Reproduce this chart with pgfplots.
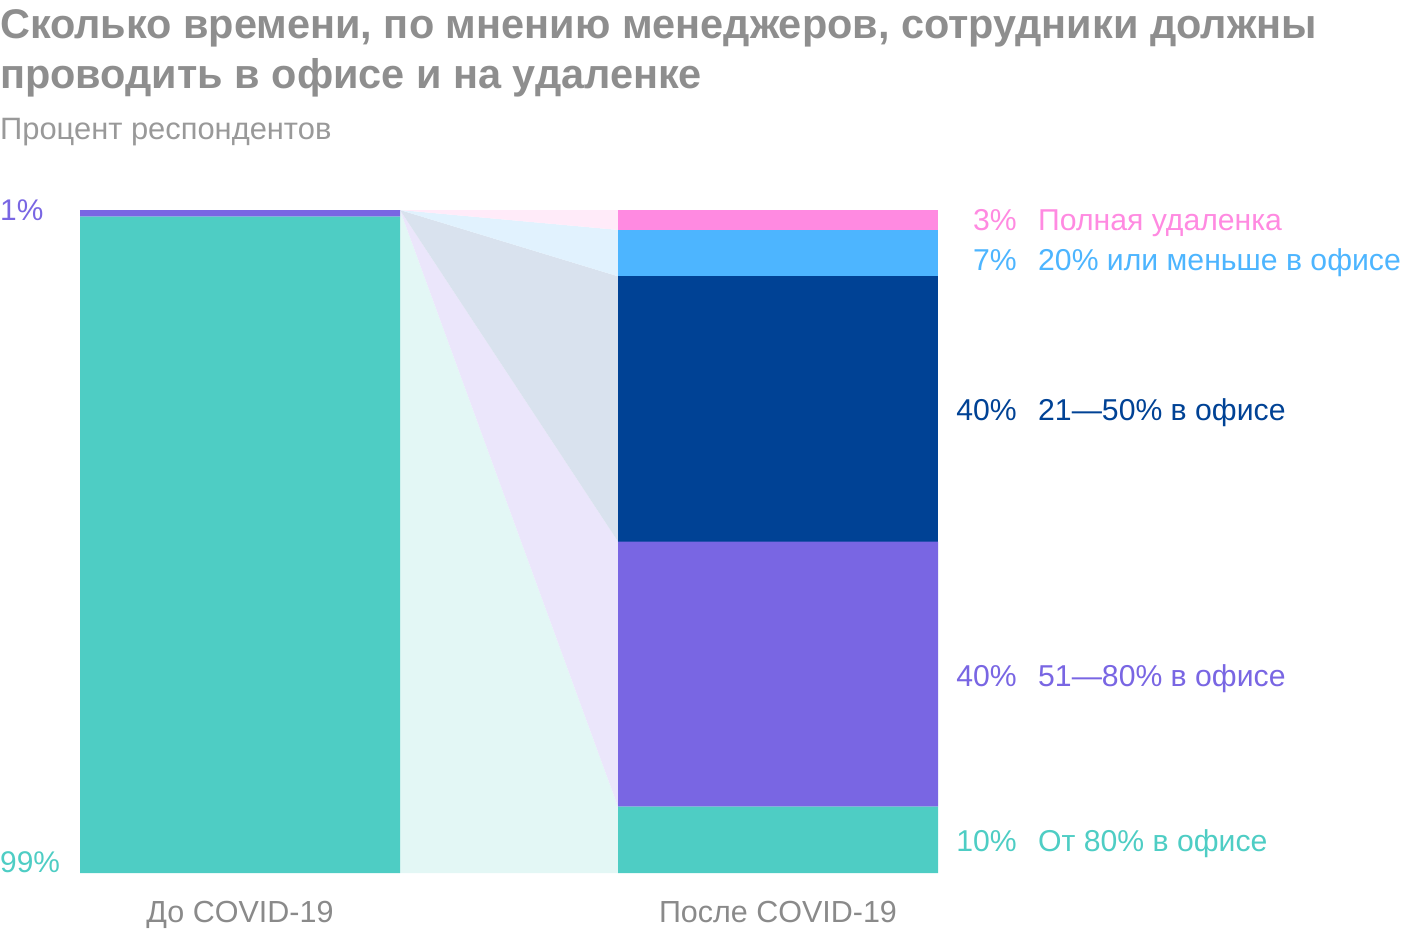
\documentclass[border=0pt]{standalone}
\usepackage{fontspec}
\setmainfont{Liberation Sans}
\usepackage{pgfplots}
\pgfplotsset{compat=1.18}
\definecolor{cteal}{HTML}{4ECDC4}
\definecolor{cpurple}{HTML}{7966E3}
\definecolor{cdblue}{HTML}{004295}
\definecolor{clblue}{HTML}{4DB5FF}
\definecolor{cpink}{HTML}{FF8AE1}
\definecolor{ltteal}{HTML}{E3F7F5}
\definecolor{ltpurple}{HTML}{EBE6FB}
\definecolor{ltdblue}{HTML}{D9E2EE}
\definecolor{ltlblue}{HTML}{E1F2FE}
\definecolor{ltpink}{HTML}{FFEBF9}
\definecolor{ctitle}{HTML}{8E8E8E}
\definecolor{csub}{HTML}{999999}
\definecolor{ctick}{HTML}{8A8A8A}
\begin{document}
\begin{tikzpicture}[x=1bp,y=1bp]
\path[use as bounding box] (0,0) rectangle (1402,-936);
% titles
\node[anchor=base west, inner sep=0, text=ctitle, font=\fontsize{41.6}{50}\selectfont\bfseries] at (0,-38) {Сколько времени, по мнению менеджеров, сотрудники должны};
\node[anchor=base west, inner sep=0, text=ctitle, font=\fontsize{41.6}{50}\selectfont\bfseries] at (0,-88) {проводить в офисе и на удаленке};
\node[anchor=base west, inner sep=0, text=csub, font=\fontsize{31}{36}\selectfont] at (0,-139) {Процент респондентов};
% bands
\begin{axis}[at={(80bp,-873bp)}, anchor=south west, width=858bp, height=663bp,
  scale only axis, xmin=-0.2974, xmax=1.2974, ymin=0, ymax=100, hide axis]
\addplot[fill=ltteal, draw=none] coordinates {(0.2974,100) (0.2974,0) (0.7026,0) (0.7026,10)} -- cycle;
\addplot[fill=ltpurple, draw=none] coordinates {(0.2974,100) (0.7026,10) (0.7026,50)} -- cycle;
\addplot[fill=ltdblue, draw=none] coordinates {(0.2974,100) (0.7026,50) (0.7026,90)} -- cycle;
\addplot[fill=ltlblue, draw=none] coordinates {(0.2974,100) (0.7026,90) (0.7026,97)} -- cycle;
\addplot[fill=ltpink, draw=none] coordinates {(0.2974,100) (0.7026,97) (0.7026,100)} -- cycle;
\end{axis}
% bars
\begin{axis}[at={(80bp,-873bp)}, anchor=south west, width=858bp, height=663bp,
  scale only axis, xmin=-0.2974, xmax=1.2974, ymin=0, ymax=100,
  ybar stacked, bar width=0.5948, axis line style={draw=none},
  major tick length=0, ytick=\empty, xtick={0,1},
  xticklabels={До COVID-19, После COVID-19},
  xticklabel style={anchor=base, yshift=-49bp, text=ctick, font=\fontsize{30.6}{36}\selectfont},
  clip=false]
\addplot[fill=cteal, draw=none] coordinates {(0,99) (1,10)};
\addplot[fill=cpurple, draw=none] coordinates {(0,1) (1,40)};
\addplot[fill=cdblue, draw=none] coordinates {(0,0) (1,40)};
\addplot[fill=clblue, draw=none] coordinates {(0,0) (1,7)};
\addplot[fill=cpink, draw=none] coordinates {(0,0) (1,3)};
\end{axis}
% left labels
\node[anchor=base west, inner sep=0, text=cpurple, font=\fontsize{30}{34}\selectfont] at (0,-220) {1\%};
\node[anchor=base west, inner sep=0, text=cteal, font=\fontsize{30}{34}\selectfont] at (0,-872) {99\%};
% right labels
\foreach \yy/\pc/\nm/\cc in {230/3/Полная удаленка/cpink, 270/7/20\% или меньше в офисе/clblue, 420/40/21—50\% в офисе/cdblue, 686/40/51—80\% в офисе/cpurple, 851/10/От 80\% в офисе/cteal}{
  \node[anchor=base east, inner sep=0, text=\cc, font=\fontsize{30.3}{34}\selectfont] at (1017,-\yy) {\pc\%};
  \node[anchor=base west, inner sep=0, text=\cc, font=\fontsize{30.3}{34}\selectfont] at (1038,-\yy) {\nm};
}
\end{tikzpicture}
\end{document}
